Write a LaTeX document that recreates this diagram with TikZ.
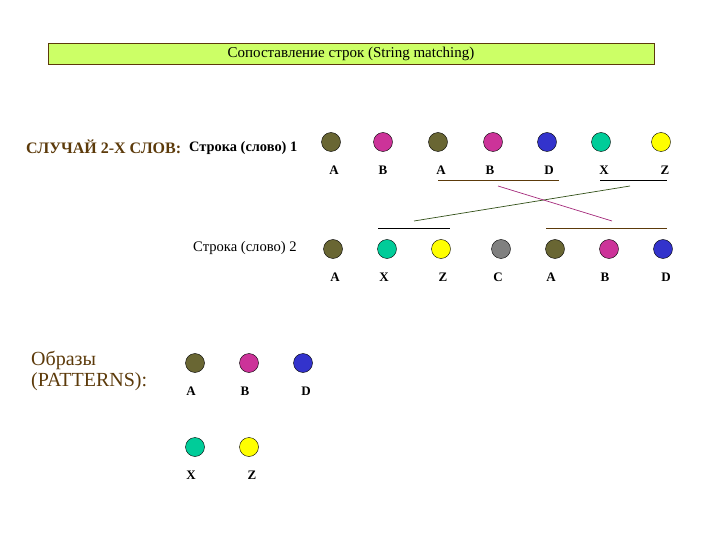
\documentclass[tikz,border=0pt]{standalone}
\usepackage{fontspec}
\setmainfont{Liberation Serif}
\begin{document}
\begin{tikzpicture}[x=1pt,y=-1pt,
  dot/.style={circle,draw=black,line width=0.4pt,minimum size=19pt,inner sep=0pt},
  lab/.style={font=\bfseries\fontsize{13}{15}\selectfont,inner sep=0pt},
  ul/.style={line width=0.8pt}]
\useasboundingbox (0,0) rectangle (720,540);
\definecolor{olv}{HTML}{696633}\definecolor{mag}{HTML}{CC3399}\definecolor{blu}{HTML}{3333CC}
\definecolor{tea}{HTML}{00CC99}\definecolor{yel}{HTML}{FFFF00}\definecolor{gry}{HTML}{808080}
\definecolor{brn}{HTML}{5C3A0A}\definecolor{lime}{HTML}{CCFF66}
\node[draw=brn,fill=lime,minimum width=606pt,minimum height=21pt,inner sep=0pt,font=\fontsize{15}{17}\selectfont] (title) at (351,53.5) {Сопоставление строк (String matching)};
\node[anchor=west,text=brn,font=\bfseries\fontsize{16}{18}\selectfont,inner sep=0pt] (case) at (26,147) {СЛУЧАЙ 2-Х СЛОВ:};
\node[anchor=west,font=\bfseries\fontsize{14.4}{16}\selectfont,inner sep=0pt] (s1) at (189,148) {Строка (слово) 1};
\node[anchor=west,font=\fontsize{14.6}{16}\selectfont,inner sep=0pt] (s2) at (193,248) {Строка (слово) 2};
\node[anchor=west,text=brn,align=left,font=\fontsize{20}{21}\selectfont,inner sep=0pt] (pat) at (31,371) {Образы\\(PATTERNS):};
% row 1
\foreach \x/\c/\l/\lx/\n in {331/olv/A/334/a1,383/mag/B/383/a2,438/olv/A/441/a3,493/mag/B/490/a4,547/blu/D/549/a5,601/tea/X/604/a6,661/yel/Z/665/a7}{
  \node[dot,fill=\c] (\n) at (\x,142) {};
  \node[lab] (\n l) at (\lx,170) {\l};}
% row 2
\foreach \x/\c/\l/\lx/\n in {333/olv/A/335/b1,387/tea/X/384/b2,441/yel/Z/443/b3,501/gry/C/498/b4,555/olv/A/551/b5,609/mag/B/605/b6,663/blu/D/666/b7}{
  \node[dot,fill=\c] (\n) at (\x,249) {};
  \node[lab] (\n l) at (\lx,277) {\l};}
% patterns
\foreach \x/\y/\c/\l/\lx/\n in {195/363/olv/A/191/p1,249/363/mag/B/245/p2,303/363/blu/D/306/p3,195/447/tea/X/191/p4,249/447/yel/Z/252/p5}{
  \node[dot,fill=\c] (\n) at (\x,\y) {};
  \node[lab] (\n l) at (\lx,\y+28) {\l};}
% underlines
\coordinate (u1a) at (438,180); \coordinate (u1b) at (559,180);
\coordinate (u2a) at (600,180); \coordinate (u2b) at (667,180);
\coordinate (u3a) at (378,228); \coordinate (u3b) at (450,228);
\coordinate (u4a) at (546,228); \coordinate (u4b) at (667,228);
\draw[ul,draw=brn] (u1a) -- (u1b);
\draw[ul] (u2a) -- (u2b);
\draw[ul] (u3a) -- (u3b);
\draw[ul,draw=brn] (u4a) -- (u4b);
\coordinate (g1) at (414,221); \coordinate (g2) at (630,186);
\coordinate (m1) at (498,186); \coordinate (m2) at (612,221);
\draw[line width=0.7pt,draw=olv!80!green!60!black] (g1) -- (g2);
\draw[line width=0.7pt,draw=mag!80!black] (m1) -- (m2);
\end{tikzpicture}
\end{document}
